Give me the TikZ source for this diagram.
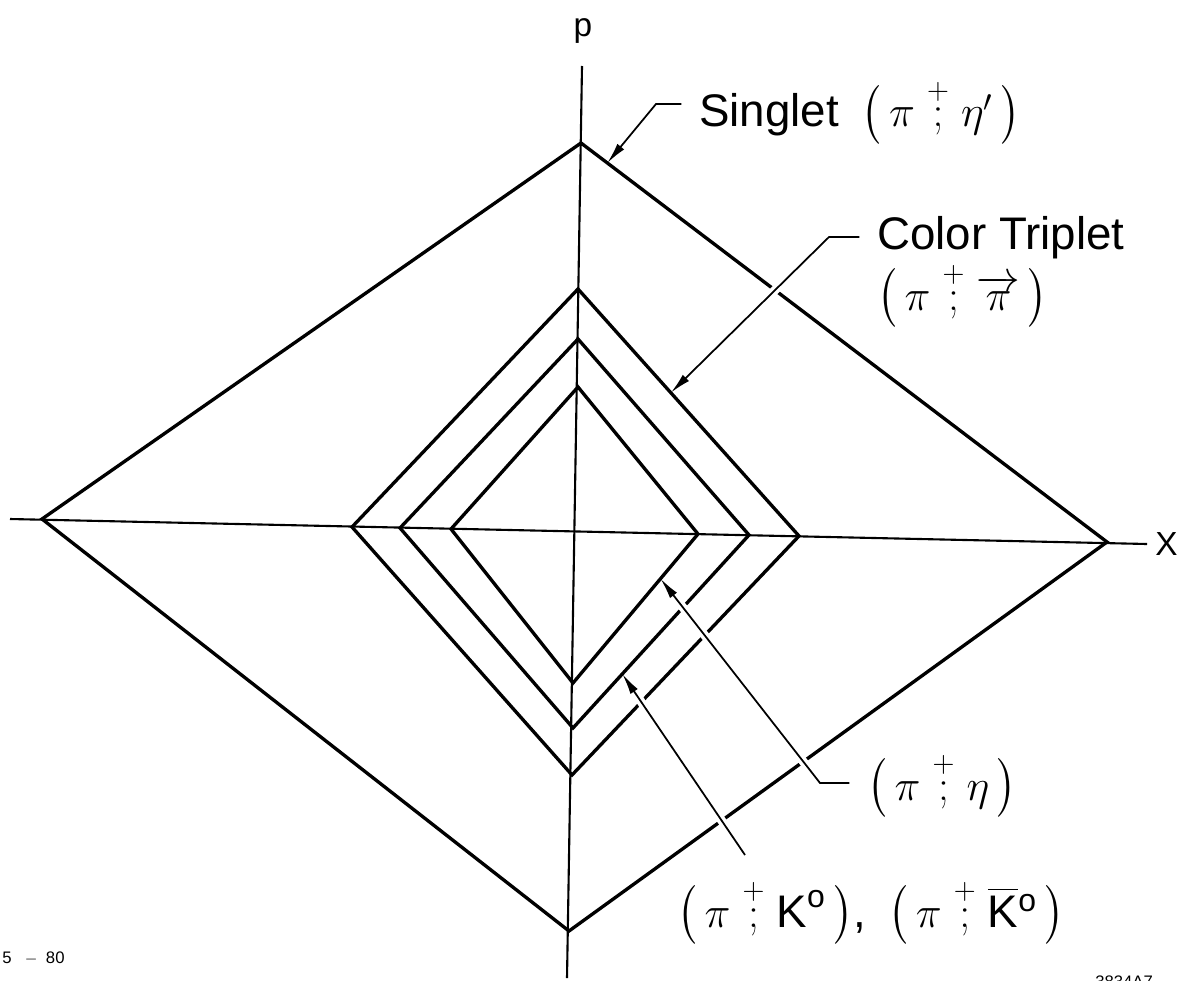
\documentclass[tikz,border=0pt]{standalone}
\usepackage{amsmath}
\usepackage{graphicx}
\usepackage{fontspec}
\setmainfont{Liberation Sans}
\usetikzlibrary{arrows.meta, calc}
\newcommand{\biglabel}{\fontsize{26}{29}\selectfont}
\newcommand{\axislabel}{\fontsize{19}{23}\selectfont}
\newcommand{\tinylabel}{\fontsize{9.5}{11}\selectfont}
% (pi+; x) pair with tall thin parentheses
\newcommand{\lpar}{\mathopen{\scalebox{1}[1.12]{$\left(\vcenter to 32pt{}\right.\nulldelimiterspace=0pt$}}}
\newcommand{\rpar}{\mathclose{\scalebox{1}[1.12]{$\left.\vcenter to 32pt{}\right)\nulldelimiterspace=0pt$}}}
\newcommand{\pipair}[1]{\lpar\,\pi\;\overset{+}{;}\;#1\,\rpar}

\begin{document}
\begin{tikzpicture}[x=0.02cm, y=-0.02cm,
  axis/.style={line width=1.2pt},
  shell/.style={line width=1.9pt},
  leader/.style={line width=1pt, -{Latex[length=12pt,width=5pt]}},
  halo/.style={white, line width=5pt, shorten >=8pt},
  lbl/.style={font=\biglabel, inner sep=0pt, anchor=base west}]
  \clip (0,0) rectangle (1179,980);

  % axes
  \draw[axis] (582,66) -- (567,978);
  \draw[axis] (10,519) -- (1147,544);
  \node[font=\axislabel, inner sep=0pt, anchor=base] (p-label) at (583,37) {p};
  \node[font=\axislabel, inner sep=0pt, anchor=base west] (x-label) at (1155,555) {X};

  % singlet shell
  \coordinate (o-top) at (581,143);
  \coordinate (o-right) at (1107,542);
  \coordinate (o-bot) at (569,931);
  \coordinate (o-left) at (42,519);
  \draw[shell] (o-top) -- (o-right) -- (o-bot) -- (o-left) -- cycle;

  % inner shells
  \coordinate (a-top) at (578,289);
  \coordinate (a-right) at (799,536);
  \coordinate (a-bot) at (572,775);
  \coordinate (a-left) at (352,527);
  \draw[shell] (a-top) -- (a-right) -- (a-bot) -- (a-left) -- cycle;
  \coordinate (b-top) at (578,339);
  \coordinate (b-right) at (749,535);
  \coordinate (b-bot) at (573,728);
  \coordinate (b-left) at (400,528);
  \draw[shell] (b-top) -- (b-right) -- (b-bot) -- (b-left) -- cycle;
  \coordinate (c-top) at (578,387);
  \coordinate (c-right) at (698,534);
  \coordinate (c-bot) at (573,683);
  \coordinate (c-left) at (451,529);
  \draw[shell] (c-top) -- (c-right) -- (c-bot) -- (c-left) -- cycle;

  % labels
  \node[lbl] (singlet) at (699,127) {Singlet\enspace$\pipair{\eta'}$};
  \node[lbl, align=left] (triplet) at (877,310) {Color Triplet\\$\pipair{\overrightarrow{\pi}}$};
  \node[lbl] (eta) at (867,800) {$\pipair{\eta}$};
  \node[lbl] (kaon) at (677,927) {$\pipair{\text{K}^{\text{o}}}$,\enspace$\pipair{\overline{\text{K}}{}^{\text{o}}}$};
  \node[font=\tinylabel, inner sep=0pt, anchor=base west] (date) at (2,963) {5\hspace{0.8em}$-$\hspace{0.5em}80};
  \node[font=\tinylabel, inner sep=0pt, anchor=north west] (fig-no) at (1095,975) {3834A7};

  % leaders
  \coordinate (singlet-tip) at ($(o-top)!0.05!(o-right)$);
  \coordinate (triplet-tip) at ($(a-top)!0.42!(a-right)$);
  \coordinate (eta-tip) at ($(c-right)!0.30!(c-bot)$);
  \coordinate (kaon-tip) at ($(b-right)!0.72!(b-bot)$);
  \coordinate (singlet-knee) at (656,104);
  \coordinate (triplet-knee) at (829,237);
  \coordinate (eta-knee) at (820,783);
  \coordinate (kaon-end) at (745,855);

  \draw[halo] (triplet-knee) -- (triplet-tip);
  \draw[halo] (eta-knee) -- (eta-tip);
  \draw[halo] (kaon-end) -- (kaon-tip);

  \draw[leader, shorten <=10pt] (singlet.west |- singlet-knee) -- (singlet-knee) -- (singlet-tip);
  \draw[leader, shorten <=10pt] (triplet.west |- triplet-knee) -- (triplet-knee) -- (triplet-tip);
  \draw[leader, shorten <=10pt] (eta.west |- eta-knee) -- (eta-knee) -- (eta-tip);
  \draw[leader] (kaon-end) -- (kaon-tip);
\end{tikzpicture}
\end{document}
